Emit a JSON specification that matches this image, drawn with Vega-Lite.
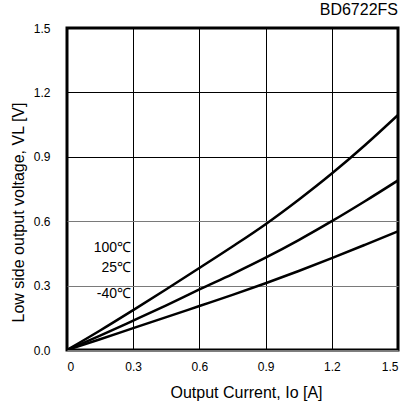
{
  "$schema": "https://vega.github.io/schema/vega-lite/v6.json",
  "autosize": "none",
  "width": 331,
  "height": 322,
  "padding": {"left": 67, "top": 28, "right": 8, "bottom": 55},
  "background": "white",
  "config": {
    "font": "Liberation Sans",
    "view": {"stroke": "black", "strokeWidth": 3},
    "axis": {"labelColor": "black", "titleColor": "black", "labelFont": "Liberation Sans", "titleFont": "Liberation Sans", "titleFontWeight": "normal"}
  },
  "title": {"text": "BD6722FS", "anchor": "end", "orient": "top", "fontSize": 16, "fontWeight": "normal", "font": "Liberation Sans", "color": "black", "offset": 4},
  "datasets": {
    "curves": [
      {"temp": "100", "io": 0, "vl": 0},
      {"temp": "100", "io": 0.15, "vl": 0.091},
      {"temp": "100", "io": 0.3, "vl": 0.186},
      {"temp": "100", "io": 0.45, "vl": 0.283},
      {"temp": "100", "io": 0.6, "vl": 0.382},
      {"temp": "100", "io": 0.75, "vl": 0.482},
      {"temp": "100", "io": 0.9, "vl": 0.586},
      {"temp": "100", "io": 1.05, "vl": 0.700},
      {"temp": "100", "io": 1.2, "vl": 0.822},
      {"temp": "100", "io": 1.35, "vl": 0.954},
      {"temp": "100", "io": 1.5, "vl": 1.095},
      {"temp": "25", "io": 0, "vl": 0},
      {"temp": "25", "io": 0.15, "vl": 0.067},
      {"temp": "25", "io": 0.3, "vl": 0.137},
      {"temp": "25", "io": 0.45, "vl": 0.208},
      {"temp": "25", "io": 0.6, "vl": 0.282},
      {"temp": "25", "io": 0.75, "vl": 0.354},
      {"temp": "25", "io": 0.9, "vl": 0.430},
      {"temp": "25", "io": 1.05, "vl": 0.512},
      {"temp": "25", "io": 1.2, "vl": 0.600},
      {"temp": "25", "io": 1.35, "vl": 0.693},
      {"temp": "25", "io": 1.5, "vl": 0.790},
      {"temp": "-40", "io": 0, "vl": 0},
      {"temp": "-40", "io": 0.15, "vl": 0.050},
      {"temp": "-40", "io": 0.3, "vl": 0.102},
      {"temp": "-40", "io": 0.45, "vl": 0.153},
      {"temp": "-40", "io": 0.6, "vl": 0.205},
      {"temp": "-40", "io": 0.75, "vl": 0.257},
      {"temp": "-40", "io": 0.9, "vl": 0.311},
      {"temp": "-40", "io": 1.05, "vl": 0.368},
      {"temp": "-40", "io": 1.2, "vl": 0.428},
      {"temp": "-40", "io": 1.35, "vl": 0.490},
      {"temp": "-40", "io": 1.5, "vl": 0.553}
    ],
    "labels": [
      {"label": "100℃", "io": 0.29, "vl": 0.475},
      {"label": "25℃", "io": 0.29, "vl": 0.384},
      {"label": "-40℃", "io": 0.29, "vl": 0.262}
    ]
  },
  "layer": [
    {
      "data": {"name": "curves"},
      "mark": {"type": "line", "color": "black", "strokeWidth": 2.5, "interpolate": "monotone", "clip": true},
      "encoding": {
        "x": {
          "field": "io", "type": "quantitative",
          "scale": {"domain": [0, 1.5], "nice": false, "zero": false},
          "axis": {
            "values": [0, 0.3, 0.6, 0.9, 1.2, 1.5],
            "labelExpr": "datum.value == 0 ? '0' : format(datum.value, '.1f')",
            "title": "Output Current, Io [A]",
            "domain": false, "ticks": false, "tickSize": 0,
            "grid": true, "gridColor": "black", "gridWidth": 1, "gridOpacity": 1,
            "labelFontSize": 12, "labelPadding": 11, "labelAngle": 0,
            "titleFontSize": 16, "titleX": 179, "titleY": 42, "titleAlign": "center", "titleBaseline": "middle"
          }
        },
        "y": {
          "field": "vl", "type": "quantitative",
          "scale": {"domain": [0, 1.5], "nice": false, "zero": false},
          "axis": {
            "values": [0, 0.3, 0.6, 0.9, 1.2, 1.5],
            "format": ".1f",
            "title": "Low side output voltage, VL [V]",
            "domain": false, "ticks": false, "tickSize": 0,
            "grid": true,
            "gridColor": {"condition": {"test": "datum.value <= 0.6", "value": "#7a7a7a"}, "value": "black"},
            "gridWidth": 1, "gridOpacity": 1,
            "labelFontSize": 12, "labelPadding": 17,
            "titleFontSize": 16, "titleX": -49, "titleY": 184, "titleAlign": "center", "titleBaseline": "middle", "titleAngle": -90
          }
        },
        "detail": {"field": "temp", "type": "nominal"}
      }
    },
    {
      "data": {"name": "labels"},
      "mark": {"type": "text", "align": "right", "baseline": "middle", "fontSize": 14, "font": "Liberation Sans", "color": "black"},
      "encoding": {
        "x": {"field": "io", "type": "quantitative"},
        "y": {"field": "vl", "type": "quantitative"},
        "text": {"field": "label"}
      }
    }
  ]
}
